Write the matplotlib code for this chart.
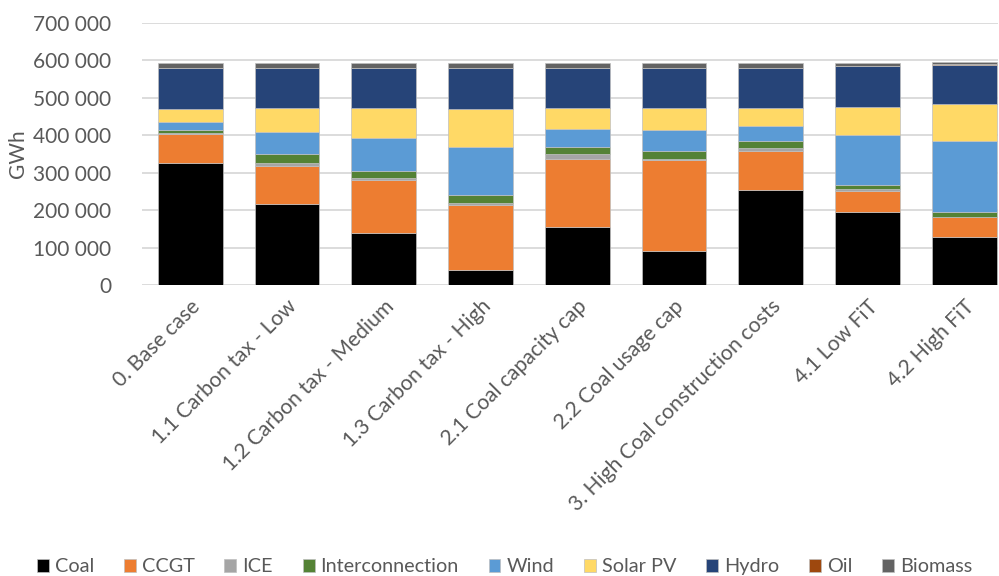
import numpy as np
import matplotlib.pyplot as plt
from matplotlib.ticker import FuncFormatter

# Scenarios and generation mix (GWh)
scenarios = ["0. Base case", "1.1 Carbon tax - Low", "1.2 Carbon tax - Medium",
             "1.3 Carbon tax - High", "2.1 Coal capacity cap", "2.2 Coal usage cap",
             "3. High Coal construction costs", "4.1 Low FiT", "4.2 High FiT"]

coal = [327000, 217000, 140000, 40000, 155000, 90000, 255000, 195000, 128000]
ccgt = [76000, 100000, 140000, 175000, 182000, 243000, 103000, 56000, 53000]
ice = [3000, 10000, 7000, 5000, 12000, 4000, 7000, 6000, 2000]
interconnection = [7000, 22000, 19000, 21000, 19000, 20000, 20000, 10000, 11000]
wind = [22000, 61000, 86000, 127000, 48000, 58000, 40000, 133000, 190000]
solar = [36000, 63000, 81000, 103000, 57000, 58000, 48000, 77000, 100000]
hydro = [109000, 107000, 107000, 109000, 107000, 107000, 107000, 109000, 105000]
oil = [500, 500, 500, 500, 500, 500, 500, 500, 500]
biomass = [11500, 11500, 11500, 13500, 11500, 11500, 11500, 7500, 7500]

series = [("Coal", coal, "#000000"), ("CCGT", ccgt, "#ED7D31"),
          ("ICE", ice, "#A5A5A5"), ("Interconnection", interconnection, "#548235"),
          ("Wind", wind, "#5B9BD5"), ("Solar PV", solar, "#FFD966"),
          ("Hydro", hydro, "#264478"), ("Oil", oil, "#9E480E"),
          ("Biomass", biomass, "#636363")]

plt.rcParams['font.family'] = ['Lato', 'DejaVu Sans']
text_color = '#595959'

fig = plt.figure(figsize=(9.99, 5.76), dpi=100)
ax = fig.add_axes([0.142, 0.505, 0.857, 0.455])

x = np.arange(len(scenarios))
bottom = np.zeros(len(scenarios))
for name, vals, color in series:
    ax.bar(x, vals, 0.67, bottom=bottom, color=color, label=name,
           edgecolor='#bfbfbf', linewidth=0.5, zorder=3)
    bottom += np.array(vals)

ax.set_ylim(0, 700000)
ax.set_xlim(-0.5, 8.35)
ax.set_yticks(np.arange(0, 700001, 100000))
ax.yaxis.set_major_formatter(FuncFormatter(lambda v, p: f"{int(v):,}".replace(",", " ")))
ax.grid(axis='y', color='#d9d9d9', linewidth=1.3, zorder=0)
for s in ax.spines.values():
    s.set_visible(False)
ax.tick_params(axis='y', length=0, labelsize=15, colors=text_color, pad=22)
ax.tick_params(axis='x', length=0, labelsize=15.2, colors=text_color, pad=8)
ax.set_xticks(x)
ax.set_xticklabels(scenarios, rotation=45, ha='right', rotation_mode='anchor')
ax.set_ylabel("GWh", fontsize=15, color=text_color, labelpad=4)

fig.legend(loc='lower center', ncol=9, bbox_to_anchor=(0.505, -0.03), frameon=False,
           fontsize=14.3, handlelength=0.6, handleheight=0.6, handletextpad=0.3,
           columnspacing=1.5, labelcolor=text_color)

fig.savefig("out.png", dpi=100)
